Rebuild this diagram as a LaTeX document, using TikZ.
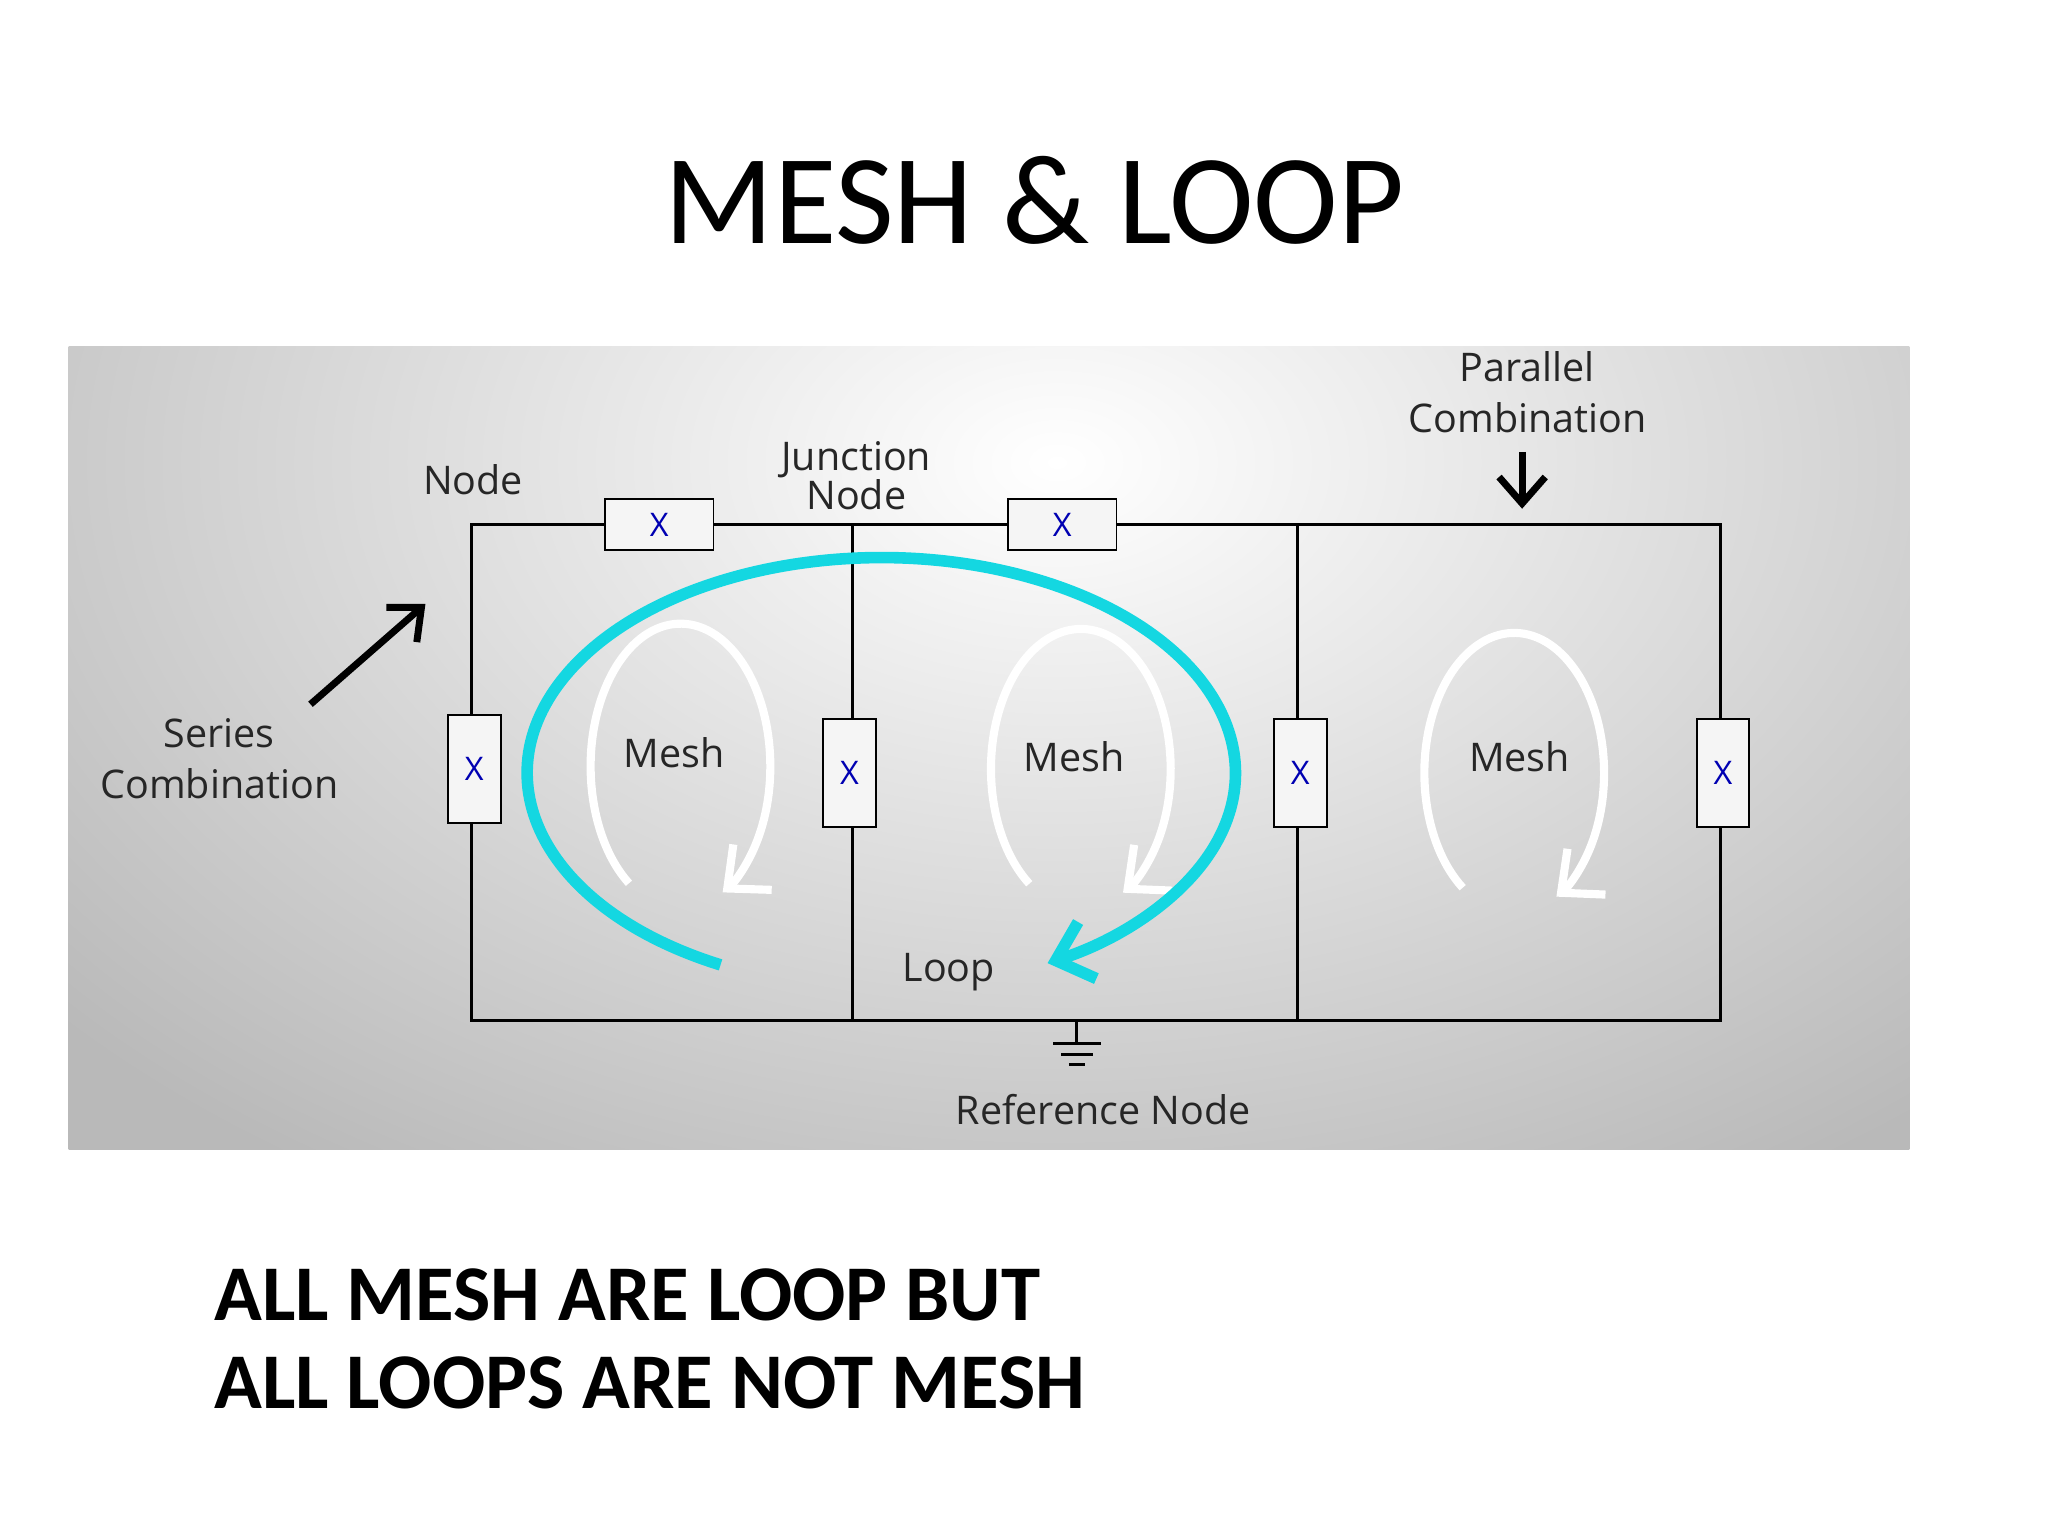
\documentclass[tikz,border=0pt]{standalone}
\usepackage{fontspec}
\setmainfont{Carlito}
\newfontfamily\lab{Open Sans}
\usetikzlibrary{arrows.meta}
\definecolor{loopc}{RGB}{20,215,225}
\begin{document}
\begin{tikzpicture}[x=0.02cm,y=-0.02cm,
  res/.style={draw,thick,fill=white!92!gray,inner sep=0pt,font=\lab\fontsize{14}{14}\selectfont,text=blue!70!black},
  hres/.style={res,minimum width=1.64cm,minimum height=0.78cm},
  vres/.style={res,minimum width=0.8cm,minimum height=1.64cm},
  wire/.style={line width=1.3pt},
  lab/.style={font=\lab\fontsize{17}{19}\selectfont,text=black!85,align=center},
  mesh/.style={white,line width=3.5pt,-{Straight Barb[length=5mm,width=9mm]}},
  blk/.style={line width=3pt,-{Straight Barb[length=4mm,width=7mm]}}]
\useasboundingbox (0,0) rectangle (1550,1162.5);
\begin{scope}
\clip (52,262) rectangle (1445,870);
\shade[inner color=white,outer color=gray!55] (-200,-300) rectangle (1800,1000);
\end{scope}
\node[font=\fontsize{55}{60}\selectfont] (title) at (783,152) {MESH \& LOOP};
% wires
\coordinate (A) at (357,397); \coordinate (B) at (645,397);
\coordinate (C) at (982,397); \coordinate (D) at (1302,397);
\coordinate (A2) at (357,772); \coordinate (B2) at (645,772);
\coordinate (C2) at (982,772); \coordinate (D2) at (1302,772);
\draw[wire] (A) -- (D) -- (D2) -- (A2) -- cycle;
\draw[wire] (B) -- (B2); \draw[wire] (C) -- (C2);
% resistors
\node[hres] (r1) at (499,397) {X};
\node[hres] (r2) at (804,397) {X};
\node[vres] (r3) at (359,582) {X};
\node[vres] (r4) at (643,585) {X};
\node[vres] (r5) at (984,585) {X};
\node[vres] (r6) at (1304,585) {X};
% ground
\coordinate (g) at (815,772);
\draw[wire] (g) -- ++(0,18);
\draw[wire] (797,790) -- (833,790) (803,798) -- (827,798) (809,806) -- (821,806);
% labels
\node[lab] (nd) at (358,363) {Node};
\node[lab,font=\lab\fontsize{17}{16}\selectfont] (jn) at (648,360) {Junction\\Node};
\node[lab,font=\lab\fontsize{17}{22}\selectfont] (pc) at (1156,297) {Parallel\\Combination};
\node[lab,font=\lab\fontsize{17}{22}\selectfont] (sc) at (166,574) {Series\\Combination};
\node[lab] (m1) at (510,570) {Mesh};
\node[lab] (m2) at (813,573) {Mesh};
\node[lab] (m3) at (1150,573) {Mesh};
\node[lab] (lp) at (718,736) {Loop};
\node[lab] (rn) at (835,840) {Reference Node};
\coordinate (pa) at (1152,385); \coordinate (sa) at (322,457);
\draw[blk] (pc.south) ++(-4,8) -- (pa);
\draw[blk] (235,533) -- (sa);
% mesh arrows
\draw[mesh] (515,580) ++(235:68 and -108) arc[start angle=235,end angle=-62,x radius=68,y radius=-108];
\draw[mesh] (818,582) ++(235:68 and -106) arc[start angle=235,end angle=-62,x radius=68,y radius=-106];
\draw[mesh] (1146,585) ++(235:68 and -106) arc[start angle=235,end angle=-62,x radius=68,y radius=-106];
% loop arrow
\draw[loopc,line width=5pt,-{Straight Barb[length=5mm,width=9mm]}] (667,585) ++(243:268 and -163) arc[start angle=243,end angle=-62,x radius=268,y radius=-163];
% bottom text
\node[anchor=west,font=\bfseries\fontsize{34}{38}\selectfont,align=left] (txt) at (156,1013) {ALL MESH ARE LOOP BUT\\ALL LOOPS ARE NOT MESH};
\end{tikzpicture}
\end{document}
